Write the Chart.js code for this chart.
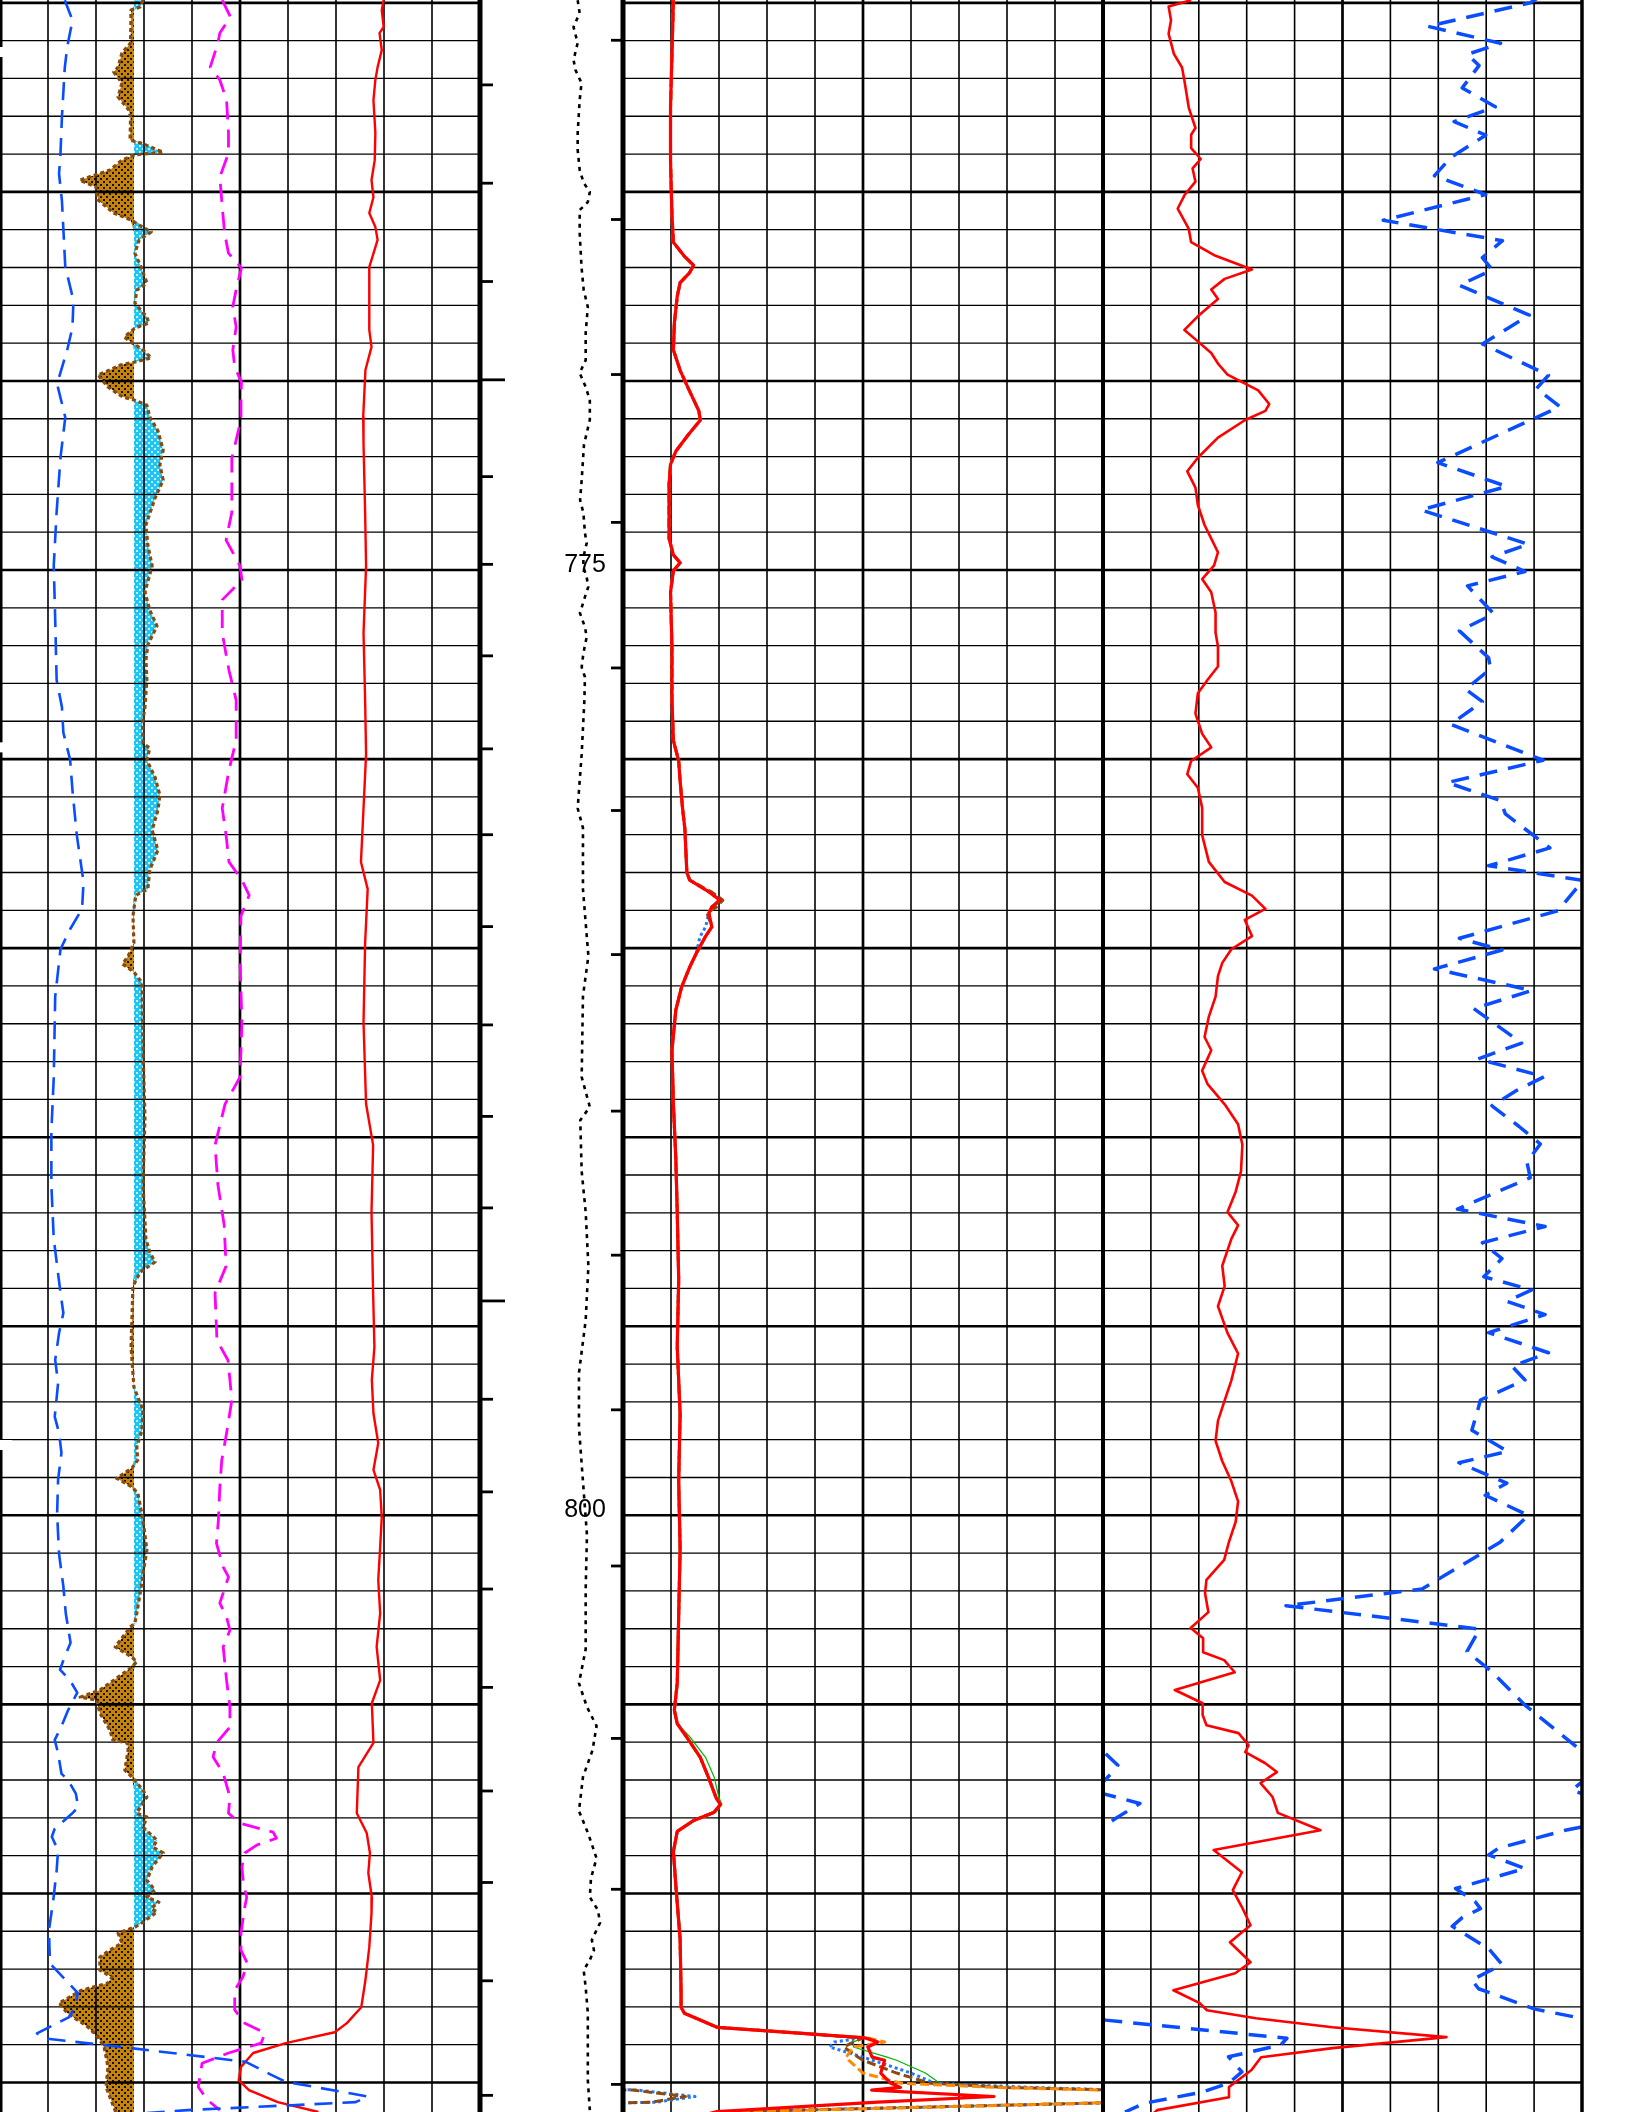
<!DOCTYPE html>
<html>
<head>
<meta charset="utf-8">
<script src="https://cdn.jsdelivr.net/npm/chart.js@4.4.1/dist/chart.umd.min.js"></script>
<style>
  html, body { margin: 0; padding: 0; background: #fff; }
  canvas { display: block; }
</style>
</head>
<body>
<canvas id="log" width="1632" height="2112"></canvas>
<script>
// ---- depth window ----
const TOP_DEPTH = 759.925;
const BASE_DEPTH = 815.78;
const SP_BASE = -52.1;            // shale base line (mV)

const depthLabels = [775, 800];
const timeMarks = [762.17, 764.77, 767.37, 769.97, 772.53, 774.85, 777.27, 779.73, 782.00, 784.43,
  787.03, 789.45, 791.87, 794.33, 796.93, 799.38, 801.95, 804.55, 807.29, 809.71, 812.31, 815.34];
const timeMarksLong = [769.97, 794.33];
const stationMarks = [760.99, 765.73, 769.83, 773.74, 777.59, 781.36, 785.17, 789.31, 793.12, 797.21,
  801.34, 805.90, 809.89, 815.05];
const edgeMarks = [761.30, 779.69, 798.14];

// ---- track 1 : caliper (in) ----
const calDepth = [759.93, 760.46, 761.17, 761.71, 763.02, 763.98, 764.52, 765.23, 766.98, 767.87,
  768.58, 769.18, 770.08, 770.96, 772.03, 773.46, 774.88, 776.31, 777.91, 778.62,
  779.30, 780.01, 780.83, 782.01, 783.25, 783.96, 784.50, 785.03, 786.28, 788.42,
  789.84, 791.26, 792.69, 794.11, 794.65, 795.18, 795.89, 796.50, 797.03, 797.39,
  797.82, 798.35, 799.06, 799.95, 801.02, 801.88, 802.59, 803.37, 803.73, 804.08,
  804.37, 804.69, 805.15, 805.58, 805.94, 806.29, 806.83, 807.01, 807.36, 807.72,
  807.90, 808.29, 808.50, 808.86, 809.39, 810.18, 810.96, 811.85, 812.28, 812.63,
  812.99, 813.27, 813.70, 813.84, 814.09, 814.45, 814.77, 814.98, 815.37, 815.52,
  815.73, 816.00];
const calVal = [7.35, 7.51, 7.40, 7.35, 7.29, 7.26, 7.23, 7.29, 7.36, 7.53,
  7.51, 7.40, 7.19, 7.36, 7.26, 7.18, 7.12, 7.15, 7.18, 7.29,
  7.32, 7.46, 7.51, 7.60, 7.74, 7.71, 7.46, 7.26, 7.15, 7.12,
  7.07, 7.07, 7.12, 7.26, 7.32, 7.23, 7.15, 7.21, 7.17, 7.14,
  7.23, 7.28, 7.21, 7.19, 7.23, 7.32, 7.37, 7.47, 7.35, 7.25,
  7.46, 7.61, 7.42, 7.28, 7.14, 7.21, 7.28, 7.42, 7.58, 7.63,
  7.49, 7.14, 7.08, 7.21, 7.18, 7.11, 7.02, 7.04, 7.36, 7.62,
  7.57, 7.44, 6.77, 6.98, 8.72, 11.11, 11.61, 11.95, 13.66, 13.41,
  9.91, 7.00];

// ---- track 1 : SP (mV) ----
const spDepth = [759.93, 760.11, 760.19, 761.06, 761.33, 761.70, 761.83, 762.12, 762.49, 762.83,
  763.02, 763.63, 763.71, 763.95, 764.02, 764.16, 764.42, 764.69, 764.87, 765.21,
  765.56, 765.74, 766.06, 766.27, 766.62, 766.99, 767.41, 767.60, 767.94, 768.31,
  768.47, 768.60, 768.84, 769.00, 769.18, 769.39, 769.50, 769.58, 769.71, 769.84,
  770.16, 770.42, 770.50, 770.64, 770.95, 771.32, 771.83, 772.22, 772.62, 773.10,
  773.81, 774.34, 774.89, 775.58, 776.06, 776.48, 776.98, 777.38, 777.91, 778.62,
  779.05, 779.58, 779.71, 780.03, 780.48, 780.95, 781.35, 781.88, 782.41, 782.93,
  783.44, 783.60, 784.15, 784.86, 785.21, 785.42, 785.63, 785.92, 787.69, 789.49,
  791.26, 792.69, 793.04, 793.30, 793.57, 793.94, 795.55, 796.61, 797.22, 797.75,
  798.19, 798.54, 798.75, 799.02, 799.25, 799.41, 800.13, 800.92, 801.53, 802.06,
  802.59, 802.85, 802.96, 803.48, 803.75, 803.88, 804.09, 804.28, 804.62, 804.81,
  804.89, 805.23, 805.68, 805.94, 806.02, 806.21, 806.74, 806.92, 807.27, 807.45,
  807.72, 807.88, 807.98, 808.25, 808.59, 808.78, 808.93, 809.30, 809.65, 809.91,
  810.10, 810.23, 810.39, 810.49, 810.76, 810.89, 811.05, 811.31, 811.50, 811.68,
  812.03, 812.21, 812.37, 812.56, 812.90, 813.16, 813.53, 813.80, 814.06, 814.59,
  815.12, 815.65, 815.81];
const spVal = [-50.2, -50.8, -52.7, -52.8, -54.6, -55.4, -56.3, -54.6, -55.4, -53.2,
  -52.8, -52.9, -50.6, -46.0, -51.9, -54.6, -57.1, -63.4, -60.0, -59.6,
  -56.3, -52.8, -48.5, -51.0, -51.9, -50.6, -49.4, -51.5, -51.9, -49.4,
  -49.0, -51.9, -54.1, -52.4, -50.2, -48.5, -51.9, -55.0, -57.1, -59.6,
  -57.5, -54.5, -52.1, -49.4, -48.8, -47.1, -46.0, -46.7, -46.0, -47.7,
  -49.6, -49.2, -48.3, -49.8, -48.8, -47.3, -49.2, -49.6, -49.4, -49.8,
  -50.3, -50.2, -48.8, -49.4, -47.7, -46.7, -47.1, -48.3, -47.1, -48.8,
  -49.2, -51.7, -52.3, -52.1, -53.3, -54.5, -52.1, -50.4, -50.2, -49.8,
  -50.2, -49.6, -48.8, -47.7, -50.8, -52.3, -52.7, -52.1, -50.2, -50.4,
  -51.5, -51.3, -52.5, -55.7, -52.5, -51.3, -50.2, -49.4, -50.2, -50.8,
  -51.5, -51.9, -52.9, -56.0, -52.5, -51.5, -53.3, -55.4, -59.2, -63.3,
  -59.8, -59.2, -57.1, -56.5, -53.5, -53.3, -54.0, -52.5, -50.2, -49.4,
  -50.8, -51.5, -49.4, -50.2, -47.3, -48.1, -46.0, -48.3, -49.4, -47.7,
  -49.4, -46.9, -48.5, -47.3, -50.2, -51.9, -55.4, -54.6, -57.1, -59.2,
  -59.2, -56.7, -57.5, -63.0, -67.7, -66.0, -61.7, -59.6, -58.3, -57.5,
  -57.9, -56.3, -55.8];

// ---- track 1 : PE ----
const peDepth = [759.93, 760.37, 760.80, 761.06, 761.70, 762.04, 762.57, 763.44, 763.97, 764.61,
  765.40, 766.09, 766.62, 767.01, 767.52, 768.04, 768.57, 769.18, 769.63, 770.03,
  770.50, 771.03, 772.04, 773.47, 774.21, 774.89, 775.26, 775.79, 776.67, 777.65,
  778.44, 779.50, 780.29, 781.30, 782.01, 782.72, 783.20, 783.60, 784.15, 785.31,
  786.98, 788.41, 789.12, 790.21, 791.26, 792.32, 793.41, 794.12, 795.37, 795.90,
  796.42, 796.95, 797.83, 798.54, 799.25, 800.13, 800.74, 801.37, 801.63, 802.32,
  802.69, 803.04, 803.48, 804.36, 805.07, 805.60, 806.02, 806.39, 806.82, 807.45,
  807.88, 808.14, 808.38, 808.54, 808.72, 808.93, 809.30, 809.73, 810.10, 810.36,
  811.05, 811.50, 811.84, 812.21, 812.56, 813.08, 813.43, 813.69, 813.96, 814.22,
  814.49, 815.12, 815.47, 815.73];
const peVal = [4.63, 4.80, 4.58, 4.54, 4.38, 4.58, 4.72, 4.76, 4.76, 4.58,
  4.63, 4.68, 4.76, 5.03, 4.93, 4.85, 4.92, 4.85, 4.89, 5.03,
  5.02, 5.02, 4.83, 4.83, 4.71, 5.00, 5.04, 4.63, 4.63, 4.77,
  4.92, 4.92, 4.77, 4.63, 4.71, 4.77, 5.04, 5.19, 5.02, 5.00,
  5.04, 5.00, 4.69, 4.48, 4.54, 4.67, 4.71, 4.48, 4.52, 4.75,
  4.79, 4.83, 4.72, 4.62, 4.58, 4.55, 4.51, 4.65, 4.76, 4.58,
  4.72, 4.79, 4.65, 4.72, 4.79, 4.79, 4.51, 4.44, 4.65, 4.79,
  4.76, 5.00, 5.69, 5.76, 5.35, 5.10, 5.04, 5.07, 5.14, 5.10,
  5.02, 5.02, 5.15, 5.06, 4.89, 4.89, 5.10, 5.52, 5.44, 4.76,
  4.21, 4.13, 4.33, 4.58];

// ---- track 1 : GR (API) ----
const grDepth = [759.93, 760.19, 760.64, 760.80, 761.25, 761.70, 762.04, 762.57, 763.44, 764.16,
  764.69, 765.14, 765.56, 765.93, 766.27, 766.99, 767.86, 768.65, 769.10, 769.71,
  770.95, 771.67, 773.47, 774.89, 776.67, 778.44, 779.87, 781.30, 782.72, 783.44,
  784.86, 786.98, 789.12, 790.21, 791.98, 794.12, 795.55, 796.42, 797.30, 798.09,
  798.80, 799.33, 800.05, 800.84, 801.71, 802.59, 803.48, 804.36, 804.97, 806.02,
  806.66, 807.88, 808.40, 808.93, 809.46, 810.10, 810.52, 811.42, 812.29, 813.01,
  813.43, 813.67, 813.96, 814.22, 814.59, 814.94, 815.20, 815.52, 815.78, 816.00];
const grVal = [119.9, 119.3, 119.9, 118.6, 119.3, 118.0, 117.3, 116.7, 117.3, 117.1,
  116.1, 116.7, 115.4, 117.3, 118.0, 115.4, 115.4, 115.4, 116.1, 114.2,
  113.5, 113.6, 114.1, 114.4, 113.6, 114.1, 114.4, 113.6, 112.8, 114.9,
  114.1, 113.6, 114.4, 116.6, 116.1, 116.6, 117.0, 116.2, 116.7, 118.2,
  116.7, 118.8, 119.3, 118.8, 118.2, 118.8, 117.7, 118.8, 116.2, 116.7,
  112.0, 111.5, 114.6, 115.6, 115.1, 116.2, 116.1, 115.4, 114.2, 112.9,
  108.4, 104.6, 89.3, 79.1, 75.3, 74.6, 77.8, 86.8, 99.5, 110.0];

// ---- depth track : cable tension ----
const tenDepth = [759.93, 760.27, 760.64, 761.06, 761.51, 761.78, 762.12, 762.57, 763.44, 763.89,
  764.42, 764.76, 765.00, 765.27, 765.48, 766.09, 766.99, 767.59, 768.04, 768.73,
  769.45, 769.79, 770.16, 770.50, 771.03, 771.69, 772.62, 773.15, 773.49, 774.02,
  774.29, 774.66, 774.92, 775.19, 775.45, 775.71, 776.14, 776.51, 776.77, 777.20,
  777.57, 777.83, 778.44, 779.87, 781.30, 781.82, 783.44, 785.21, 786.27, 788.41,
  789.20, 789.55, 790.90, 791.98, 793.41, 794.84, 796.24, 797.67, 799.10, 800.52,
  801.95, 803.54, 804.44, 805.07, 805.57, 806.21, 806.92, 807.82, 808.43, 809.07,
  809.60, 810.10, 810.44, 810.78, 811.23, 811.50, 811.76, 812.03, 812.48, 813.16,
  814.06, 814.94, 815.73];
const tenVal = [6.83, 6.97, 6.54, 6.83, 6.54, 6.68, 7.10, 6.97, 6.83, 6.83,
  6.97, 7.25, 7.68, 7.54, 6.97, 6.97, 7.10, 7.25, 7.54, 7.39,
  7.39, 6.97, 7.39, 7.68, 7.68, 7.27, 7.11, 7.00, 7.23, 7.34,
  7.46, 7.23, 7.23, 7.46, 7.57, 7.34, 6.99, 7.34, 7.46, 7.23,
  7.11, 7.34, 7.30, 7.11, 6.83, 7.20, 7.20, 7.58, 7.20, 7.11,
  7.68, 7.01, 7.11, 7.39, 7.58, 7.39, 6.92, 6.92, 7.20, 7.48,
  7.39, 7.39, 6.92, 7.48, 8.15, 7.87, 7.20, 6.92, 7.58, 8.15,
  7.76, 7.68, 8.25, 8.39, 7.82, 7.97, 7.68, 7.25, 7.39, 7.54,
  7.54, 7.54, 7.68];

// ---- track 2 : resistivity array (ohm.m, backup 10-20) ----
const resDepth = [759.93, 761.35, 762.77, 764.20, 765.62, 766.33, 766.69, 766.94, 767.15, 767.40,
  767.76, 768.47, 769.18, 769.72, 770.25, 770.79, 771.04, 771.39, 771.86, 772.21,
  772.75, 774.17, 774.60, 774.81, 775.02, 775.59, 777.02, 778.44, 779.51, 780.05,
  780.58, 781.29, 781.86, 783.00, 783.20, 783.52, 783.73, 783.91, 784.07, 784.44,
  784.71, 785.13, 785.50, 786.03, 786.64, 787.70, 789.13, 790.55, 791.98, 793.76,
  795.54, 797.32, 799.10, 800.88, 802.66, 804.44, 805.15, 805.51, 805.87, 806.40,
  806.93, 807.47, 807.65, 807.86, 808.07, 808.36, 808.89, 809.78, 811.21, 812.63,
  813.01, 813.17, 813.54, 813.66, 813.82, 813.93, 814.06, 814.33, 814.41, 814.75,
  815.02, 815.13, 815.20, 815.37, 815.52, 815.77, 816.20];
const resDeep = [1.05, 1.02, 0.99, 0.99, 1.02, 1.05, 1.27, 1.47, 1.38, 1.19,
  1.13, 1.07, 1.05, 1.19, 1.38, 1.58, 1.61, 1.38, 1.10, 0.99,
  0.96, 0.96, 1.05, 1.19, 1.05, 0.99, 1.02, 1.02, 1.05, 1.16,
  1.19, 1.24, 1.29, 1.33, 1.39, 1.80, 2.02, 1.85, 1.79, 1.85,
  1.71, 1.53, 1.39, 1.22, 1.10, 1.02, 1.05, 1.10, 1.13, 1.16,
  1.13, 1.19, 1.16, 1.19, 1.16, 1.13, 1.07, 1.13, 1.33, 1.61,
  1.78, 1.94, 2.03, 1.89, 1.47, 1.13, 1.05, 1.10, 1.19, 1.21,
  1.21, 1.28, 1.96, 3.29, 5.04, 5.31, 5.10, 5.19, 5.45, 5.37,
  5.58, 5.78, 5.18, 7.73, 5.31, 1.96, 0.60];
const resMed = [1.05, 1.02, 0.99, 0.99, 1.02, 1.05, 1.27, 1.47, 1.38, 1.19,
  1.13, 1.07, 1.05, 1.19, 1.38, 1.58, 1.61, 1.38, 1.10, 0.99,
  0.96, 0.96, 1.05, 1.19, 1.05, 0.99, 1.02, 1.02, 1.05, 1.16,
  1.19, 1.24, 1.29, 1.33, 1.39, 1.80, 2.00, 1.85, 1.79, 1.85,
  1.71, 1.53, 1.39, 1.22, 1.10, 1.02, 1.05, 1.10, 1.13, 1.16,
  1.13, 1.19, 1.16, 1.19, 1.16, 1.13, 1.07, 1.13, 1.33, 1.61,
  1.78, 1.94, 2.03, 1.89, 1.47, 1.13, 1.05, 1.10, 1.19, 1.21,
  1.21, 1.28, 1.96, 3.30, 5.10, 5.45, 4.80, 4.65, 4.70, 5.00,
  5.80, 7.80, 10.00, 10.90, 10.50, 2.60, 0.80];
const resShallow = [1.05, 1.02, 0.99, 0.99, 1.02, 1.05, 1.27, 1.47, 1.38, 1.19,
  1.13, 1.07, 1.05, 1.19, 1.38, 1.58, 1.61, 1.38, 1.10, 0.99,
  0.96, 0.96, 1.05, 1.19, 1.05, 0.99, 1.02, 1.02, 1.05, 1.16,
  1.19, 1.24, 1.29, 1.33, 1.39, 1.85, 2.08, 1.95, 1.75, 1.85,
  1.71, 1.53, 1.39, 1.22, 1.10, 1.02, 1.05, 1.10, 1.13, 1.16,
  1.13, 1.19, 1.16, 1.19, 1.16, 1.13, 1.07, 1.13, 1.33, 1.61,
  1.78, 1.94, 2.03, 1.89, 1.47, 1.13, 1.05, 1.10, 1.19, 1.21,
  1.21, 1.28, 1.96, 3.30, 5.00, 4.80, 4.60, 4.90, 5.00, 5.70,
  6.40, 8.00, 10.20, 11.30, 10.60, 2.40, 0.80];
const resFlushed = [1.05, 1.02, 0.99, 0.99, 1.02, 1.05, 1.27, 1.47, 1.38, 1.19,
  1.13, 1.07, 1.05, 1.19, 1.38, 1.58, 1.61, 1.38, 1.10, 0.99,
  0.96, 0.96, 1.05, 1.19, 1.05, 0.99, 1.02, 1.02, 1.05, 1.16,
  1.19, 1.24, 1.29, 1.33, 1.39, 1.80, 2.02, 1.85, 1.79, 1.72,
  1.60, 1.53, 1.39, 1.22, 1.10, 1.02, 1.05, 1.10, 1.13, 1.16,
  1.13, 1.19, 1.16, 1.19, 1.16, 1.13, 1.07, 1.13, 1.33, 1.61,
  1.78, 1.94, 2.03, 1.89, 1.47, 1.13, 1.05, 1.10, 1.19, 1.21,
  1.21, 1.28, 1.96, 3.30, 5.00, 4.40, 4.30, 5.00, 5.20, 6.00,
  6.50, 8.50, 10.30, 11.50, 10.70, 2.20, 0.80];
const resMicro = [1.05, 1.02, 0.99, 0.99, 1.02, 1.05, 1.27, 1.47, 1.38, 1.19,
  1.13, 1.07, 1.05, 1.19, 1.38, 1.58, 1.61, 1.38, 1.10, 0.99,
  0.96, 0.96, 1.05, 1.19, 1.05, 0.99, 1.02, 1.02, 1.05, 1.16,
  1.19, 1.24, 1.29, 1.33, 1.39, 1.82, 2.05, 1.90, 1.80, 1.85,
  1.71, 1.53, 1.39, 1.22, 1.10, 1.02, 1.05, 1.10, 1.13, 1.16,
  1.13, 1.19, 1.16, 1.19, 1.16, 1.13, 1.07, 1.13, 1.40, 1.72,
  1.90, 2.00, 2.06, 1.93, 1.52, 1.13, 1.05, 1.10, 1.19, 1.21,
  1.21, 1.28, 1.96, 3.30, 5.00, 4.80, 4.80, 5.50, 5.70, 6.30,
  6.60, 8.00, 10.10, 10.80, 10.30, 2.30, 0.80];

// ---- track 3 : formation resistivity (red) ----
const rtDepth = [759.93, 760.10, 760.46, 760.82, 761.35, 761.71, 762.06, 762.77, 763.31, 763.49,
  763.84, 764.13, 764.38, 764.73, 765.09, 765.44, 765.98, 766.33, 766.69, 767.05,
  767.30, 767.58, 767.83, 768.29, 768.65, 768.90, 769.26, 769.54, 769.83, 770.25,
  770.61, 770.79, 771.04, 771.50, 772.03, 772.39, 772.82, 773.28, 773.81, 774.17,
  774.53, 774.88, 775.24, 775.59, 776.13, 776.66, 777.02, 777.55, 777.91, 778.26,
  778.80, 779.33, 779.69, 780.05, 780.40, 780.76, 781.29, 782.01, 782.72, 783.25,
  783.61, 783.96, 784.25, 784.68, 785.03, 785.39, 785.74, 786.28, 786.81, 787.35,
  787.70, 788.24, 788.59, 789.13, 789.66, 790.20, 790.91, 791.44, 791.98, 792.33,
  792.69, 793.40, 793.94, 794.47, 795.18, 795.72, 796.43, 796.96, 797.50, 798.03,
  798.57, 799.10, 799.63, 800.17, 800.70, 801.18, 801.71, 802.06, 802.56, 802.98,
  803.25, 803.62, 803.83, 804.15, 804.62, 804.97, 805.28, 805.55, 805.76, 806.08,
  806.26, 806.55, 806.79, 807.08, 807.45, 807.87, 808.33, 808.85, 809.44, 809.91,
  810.36, 810.84, 811.29, 811.82, 812.11, 812.56, 812.90, 813.09, 813.30, 813.54,
  813.80, 814.09, 814.33, 814.67, 815.12, 815.39, 815.73, 816.00];
const rtVal = [1.84, 1.37, 1.42, 1.37, 1.48, 1.65, 1.70, 1.79, 1.93, 1.84,
  1.84, 2.04, 1.87, 1.93, 1.70, 1.56, 1.79, 1.84, 2.35, 3.11,
  2.54, 2.26, 2.40, 1.98, 1.70, 1.93, 2.26, 2.40, 2.60, 3.24,
  3.47, 3.39, 2.96, 2.40, 1.98, 1.76, 1.93, 1.98, 2.12, 2.26,
  2.40, 2.32, 2.07, 2.26, 2.35, 2.35, 2.40, 2.40, 2.18, 1.98,
  1.93, 2.07, 2.26, 1.84, 1.76, 1.98, 2.07, 2.07, 2.21, 2.54,
  3.11, 3.39, 2.96, 3.11, 2.68, 2.49, 2.40, 2.35, 2.21, 2.12,
  2.26, 2.07, 2.18, 2.54, 2.82, 2.91, 2.88, 2.77, 2.60, 2.82,
  2.68, 2.49, 2.54, 2.40, 2.60, 2.82, 2.68, 2.54, 2.40, 2.35,
  2.49, 2.68, 2.82, 2.77, 2.63, 2.53, 2.16, 2.13, 2.20, 1.83,
  2.09, 2.09, 2.53, 2.75, 1.50, 2.08, 2.08, 2.16, 2.83, 3.04,
  2.97, 3.38, 3.63, 3.29, 3.54, 3.65, 4.54, 2.31, 2.90, 2.71,
  2.90, 3.08, 2.65, 3.08, 2.76, 1.47, 2.02, 2.17, 3.19, 4.79,
  7.17, 4.79, 3.30, 3.10, 2.63, 2.63, 1.13, 0.90];

// ---- track 3 : blue dashed (backup 10-20) ----
const blueDepth = [759.85, 760.00, 760.62, 761.07, 761.36, 761.66, 762.25, 762.75, 763.14, 763.50,
  764.09, 764.57, 765.07, 765.75, 766.29, 766.74, 767.06, 767.47, 768.26, 769.02,
  769.85, 770.20, 770.68, 772.16, 772.79, 773.41, 774.32, 774.65, 775.04, 775.42,
  776.16, 776.61, 777.32, 777.62, 778.15, 778.48, 779.08, 780.03, 780.62, 781.10,
  781.45, 782.35, 782.82, 783.21, 783.47, 784.01, 784.74, 785.05, 785.55, 786.12,
  786.60, 787.51, 787.93, 788.40, 788.76, 789.17, 789.71, 790.18, 790.66, 791.07,
  791.90, 792.36, 792.79, 793.21, 793.69, 794.04, 794.34, 794.69, 795.17, 795.70,
  796.06, 796.42, 796.95, 797.28, 797.75, 798.31, 798.61, 799.15, 799.47, 800.00,
  800.71, 801.95, 802.39, 803.01, 803.60, 804.14, 805.02, 806.24, 806.61, 806.82,
  807.05, 807.27, 807.36, 807.62, 808.02, 808.24, 808.33, 808.80, 808.98, 809.34,
  809.87, 810.22, 810.40, 810.64, 810.87, 811.46, 811.88, 812.29, 812.52, 813.06,
  813.30, 813.35, 813.83, 814.01, 814.32, 814.72, 815.02, 815.25, 815.55, 815.78];
const blueVal = [9.10, 8.92, 6.78, 8.30, 7.61, 7.85, 7.50, 8.19, 7.33, 7.99,
  7.26, 6.92, 7.99, 5.85, 8.34, 7.92, 8.13, 7.44, 8.90, 7.92,
  9.30, 9.05, 9.54, 6.99, 8.43, 6.64, 8.88, 8.12, 8.81, 7.61,
  8.16, 7.44, 8.05, 8.09, 7.57, 7.92, 7.26, 9.19, 7.19, 8.30,
  8.40, 9.33, 8.05, 10.03, 9.85, 9.50, 7.44, 8.33, 6.92, 8.95,
  7.74, 8.74, 7.83, 9.21, 8.64, 8.12, 8.68, 9.13, 8.85, 8.92,
  7.40, 9.23, 7.92, 8.33, 7.95, 8.95, 8.43, 9.23, 8.05, 9.30,
  8.54, 8.81, 7.88, 7.81, 7.70, 8.45, 7.43, 8.43, 7.98, 8.88,
  8.29, 6.66, 3.82, 7.86, 7.60, 8.12, 8.81, 10.00, 10.31, 10.18,
  10.00, 9.79, 10.00, 10.77, 10.26, 10.00, 9.65, 8.26, 8.05, 8.81,
  7.36, 7.77, 7.88, 7.50, 7.29, 8.05, 8.33, 7.70, 7.84, 9.02,
  9.98, 10.05, 13.84, 13.71, 12.62, 12.90, 12.62, 12.08, 10.86, 10.46];

// ---- layout (pixels) ----
const W = 1632, H = 2112;
const TRACK = { t1: [0, 480], td: [480, 623], t2: [623, 1103], t3: [1103, 1582] };

// each curve gets its own hidden axis so that [lo, hi] lands exactly on its track
function trackAxis(track, lo, hi) {
  const [a, b] = TRACK[track];
  const per = (hi - lo) / (b - a);
  return { type: 'linear', display: false, min: lo - a * per, max: lo + (W - a) * per };
}
const AXES = {
  xCal: ['t1', 6, 16], xSp: ['t1', -80, 20], xPe: ['t1', 0, 10], xGr: ['t1', 0, 150],
  xTen: ['td', 0, 10],
  xRes: ['t2', 0, 10], xResB: ['t2', 10, 20],
  xRt: ['t3', 0, 10], xBlue: ['t3', 0, 10], xBlueB: ['t3', 10, 20]
};

function series(depths, values) {
  return depths.map((d, i) => ({ x: values[i], y: d }));
}

const canvas = document.getElementById('log');
const ctx0 = canvas.getContext('2d');
function dotPattern(bg, dot) {
  const t = document.createElement('canvas');
  t.width = 6; t.height = 6;
  const g = t.getContext('2d');
  g.fillStyle = bg; g.fillRect(0, 0, 6, 6);
  g.fillStyle = dot; g.fillRect(1, 1, 2, 2); g.fillRect(4, 4, 2, 2);
  return ctx0.createPattern(t, 'repeat');
}
const shaleFill = dotPattern('#c4840a', '#1a1000');
const sandFill = dotPattern('#1ec4f2', '#bff0ff');

function curve(axis, depths, values, color, width, dash, extra) {
  return Object.assign({
    data: series(depths, values), xAxisID: axis, yAxisID: 'y',
    borderColor: color, borderWidth: width, borderDash: dash || [],
    borderJoinStyle: 'round', pointRadius: 0, fill: false
  }, extra || {});
}

const datasets = [
  curve('xBlue', blueDepth, blueVal, '#0a4cff', 3.5, [18, 11]),
  curve('xBlueB', blueDepth, blueVal, '#0a4cff', 3.5, [18, 11]),
  curve('xRt', rtDepth, rtVal, '#ff0000', 2.6),
  curve('xRes', resDepth, resDeep, '#ff0000', 3.2),
  curve('xRes', resDepth, resMed, '#ff8a00', 3, [9, 4]),
  curve('xRes', resDepth, resShallow, '#8b4a10', 3, [9, 4]),
  curve('xResB', resDepth, resShallow, '#8b4a10', 3, [9, 4]),
  curve('xRes', resDepth, resFlushed, '#1e78ff', 3, [3, 3]),
  curve('xResB', resDepth, resFlushed, '#1e78ff', 3, [3, 3]),
  curve('xRes', resDepth, resMicro, '#00b400', 1.2),
  curve('xTen', tenDepth, tenVal, '#000000', 2.6, [4, 5]),
  curve('xCal', calDepth, calVal, '#0a4cff', 2.6, [18, 10]),
  curve('xPe', peDepth, peVal, '#ff00ff', 2.8, [18, 10]),
  curve('xGr', grDepth, grVal, '#ff0000', 2.4),
  curve('xSp', spDepth, spVal, '#8b4a0c', 3.2, [4, 3]),
  // SP shading against the shale base line
  curve('xSp', spDepth, spVal.map(v => Math.min(v, SP_BASE)), 'rgba(0,0,0,0)', 0, [],
    { fill: { target: { value: SP_BASE } }, backgroundColor: shaleFill }),
  curve('xSp', spDepth, spVal.map(v => Math.max(v, SP_BASE)), 'rgba(0,0,0,0)', 0, [],
    { fill: { target: { value: SP_BASE } }, backgroundColor: sandFill })
];

function seg(ctx, x1, y1, x2, y2) {
  ctx.beginPath(); ctx.moveTo(x1, y1); ctx.lineTo(x2, y2); ctx.stroke();
}

// keep every curve inside its own track
const trackClip = {
  id: 'trackClip',
  beforeDatasetDraw(chart, args) {
    const [a, b] = TRACK[AXES[args.meta.xAxisID][0]];
    const ctx = chart.ctx;
    ctx.save();
    ctx.beginPath();
    ctx.rect(a, 0, b - a, chart.height);
    ctx.clip();
  },
  afterDatasetDraw(chart) { chart.ctx.restore(); }
};

// depth grid, drawn over the SP shading and under the curves
const logGrid = {
  id: 'logGrid',
  beforeDatasetsDraw(chart) {
    const ctx = chart.ctx, y = chart.scales.y;
    ctx.save();
    ctx.strokeStyle = '#000';
    ['t1', 't2', 't3'].forEach(k => {
      const [a, b] = TRACK[k];
      for (let d = Math.ceil(TOP_DEPTH); d <= BASE_DEPTH; d++) {
        const py = y.getPixelForValue(d);
        ctx.lineWidth = d % 5 === 0 ? 2.6 : 1.3;
        seg(ctx, a, py, b, py);
      }
      for (let i = 1; i < 10; i++) {
        const px = a + (b - a) * i / 10;
        ctx.lineWidth = i === 5 ? 2.7 : 1.6;
        seg(ctx, px, 0, px, chart.height);
      }
    });
    ctx.restore();
  },
  afterDatasetsDraw(chart) {
    const ctx = chart.ctx, y = chart.scales.y, h = chart.height;
    ctx.save();
    ctx.strokeStyle = '#000';
    ctx.fillStyle = '#000';
    ctx.fillRect(0, 0, 2.5, h);
    [[480, 5], [623, 5], [1103, 4], [1582, 3.5]].forEach(([x, w]) => {
      ctx.lineWidth = w; seg(ctx, x, 0, x, h);
    });
    ctx.fillStyle = '#fff';
    edgeMarks.forEach(d => {
      ctx.fillRect(0, y.getPixelForValue(d) - 5, 12, 10);
    });
    ctx.lineWidth = 2.8;
    timeMarks.forEach(d => {
      const py = y.getPixelForValue(d);
      seg(ctx, 480, py, timeMarksLong.includes(d) ? 505 : 493, py);
    });
    stationMarks.forEach(d => {
      const py = y.getPixelForValue(d);
      seg(ctx, 611, py, 623, py);
    });
    ctx.fillStyle = '#000';
    ctx.font = '25px "Liberation Sans", Arial, sans-serif';
    ctx.textAlign = 'center';
    ctx.textBaseline = 'alphabetic';
    depthLabels.forEach(d => ctx.fillText(String(d), 585, y.getPixelForValue(d) + 2));
    ctx.restore();
  }
};

const scales = {
  y: { type: 'linear', reverse: true, display: false, min: TOP_DEPTH, max: BASE_DEPTH }
};
Object.keys(AXES).forEach(id => { scales[id] = trackAxis(...AXES[id]); });

new Chart(canvas, {
  type: 'line',
  data: { datasets },
  options: {
    indexAxis: 'y',
    responsive: false,
    devicePixelRatio: 1,
    animation: false,
    events: [],
    layout: { padding: 0 },
    scales,
    plugins: {
      legend: { display: false },
      tooltip: { enabled: false },
      filler: { drawTime: 'beforeDatasetsDraw' }
    }
  },
  plugins: [trackClip, logGrid]
});
</script>
</body>
</html>
